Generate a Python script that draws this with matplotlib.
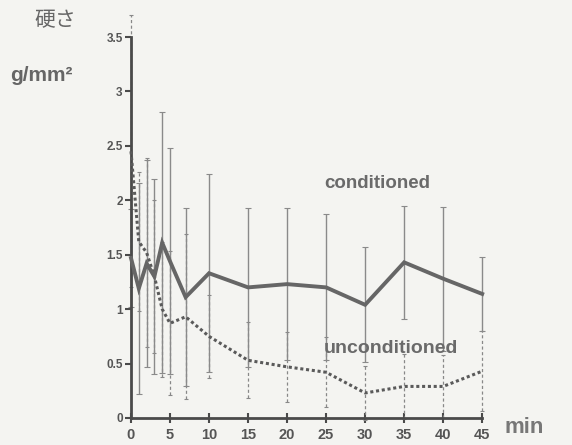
import matplotlib
matplotlib.use("Agg")
import matplotlib.pyplot as plt

plt.rcParams['font.family'] = ['Liberation Sans', 'Noto Sans CJK JP', 'DejaVu Sans']

# sampling times (min)
times = [0, 1, 2, 3, 4, 5, 7, 10, 15, 20, 25, 30, 35, 40, 45]

# hardness, g/mm^2
cond_mean = [1.47, 1.19, 1.42, 1.30, 1.61, 1.44, 1.11, 1.33, 1.20, 1.23, 1.20, 1.04, 1.43, 1.28, 1.14]
cond_err = [0.45, 0.97, 0.95, 0.90, 1.20, 1.04, 0.82, 0.91, 0.73, 0.70, 0.67, 0.53, 0.52, 0.66, 0.34]

uncond_mean = [2.45, 1.62, 1.52, 1.30, 1.00, 0.87, 0.93, 0.75, 0.53, 0.47, 0.42, 0.23, 0.29, 0.29, 0.43]
uncond_err = [1.25, 0.64, 0.87, 0.70, 0.62, 0.66, 0.76, 0.38, 0.35, 0.32, 0.32, 0.25, 0.30, 0.29, 0.37]

xticks = [0, 5, 10, 15, 20, 25, 30, 35, 40, 45]
yticks = [0, 0.5, 1, 1.5, 2, 2.5, 3, 3.5]
ylabels = ['0', '0.5', '1', '1.5', '2', '2.5', '3', '3.5']

bg = '#f4f4f1'
fig = plt.figure(figsize=(5.72, 4.45), dpi=100, facecolor=bg)
ax = fig.add_axes([0.229, 0.0607, 0.614, 0.856], facecolor=bg)

# error bars first, lines on top
eb = ax.errorbar(times, uncond_mean, yerr=uncond_err, fmt='none',
                 ecolor='#888888', elinewidth=0.9, capsize=1.5, capthick=0.8,
                 clip_on=False, zorder=2)
for coll in eb[2]:
    coll.set_linestyle((0, (2.5, 2)))
ax.errorbar(times, cond_mean, yerr=cond_err, fmt='none',
            ecolor='#8a8a8a', elinewidth=1.0, capsize=2, capthick=0.8,
            clip_on=False, zorder=2)

ax.plot(times, uncond_mean, color='#5a5a5a', lw=2.2, ls=(0, (1, 0.9)),
        clip_on=False, zorder=3)
ax.plot(times, cond_mean, color='#666666', lw=2.8, solid_joinstyle='miter',
        clip_on=False, zorder=4)

ax.set_xlim(0, 45)
ax.set_ylim(0, 3.5)
ax.set_xticks(xticks)
ax.set_yticks(yticks)
ax.set_yticklabels(ylabels)

for s in ['top', 'right']:
    ax.spines[s].set_visible(False)
for s in ['left', 'bottom']:
    ax.spines[s].set_linewidth(2.0)
    ax.spines[s].set_color('#4a4a4a')

ax.tick_params(axis='y', direction='out', length=4, width=1.5, colors='#4a4a4a',
               labelsize=8.5, labelcolor='#555555', pad=2)
ax.tick_params(axis='x', direction='inout', length=7, width=1.5, colors='#4a4a4a',
               labelsize=10.5, labelcolor='#555555', pad=4)
for lab in ax.get_xticklabels() + ax.get_yticklabels():
    lab.set_fontweight('bold')

ax.text(31.6, 2.15, 'conditioned', fontsize=13.5, fontweight='bold', color='#6a6a6a',
        ha='center', va='center')
ax.text(33.3, 0.64, 'unconditioned', fontsize=14, fontweight='bold', color='#6a6a6a',
        ha='center', va='center')

fig.text(0.06, 0.953, '硬さ', fontsize=15, color='#666666', ha='left', va='center')
fig.text(0.017, 0.83, 'g/mm²', fontsize=15, fontweight='bold', color='#666666',
         ha='left', va='center')
fig.text(0.882, 0.04, 'min', fontsize=16, fontweight='bold', color='#777777',
         ha='left', va='center')

fig.savefig('out.png', dpi=100, facecolor=bg)
